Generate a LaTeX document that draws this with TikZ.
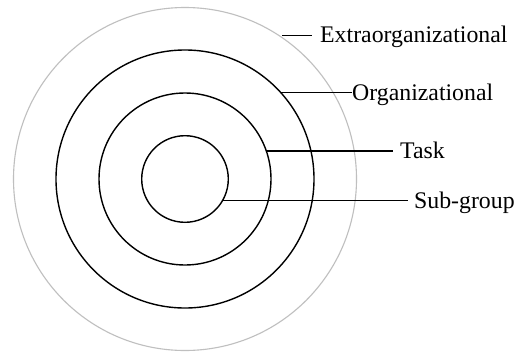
\documentclass[tikz,border=0pt]{standalone}
\usepackage{fontspec}
\setmainfont{Liberation Serif}
\begin{document}
\begin{tikzpicture}[x=1pt,y=-1pt,
  ring/.style={circle,draw=black,line width=1.4pt,inner sep=0pt,outer sep=0pt,minimum size=#1},
  outerring/.style={circle,draw=black!25,line width=1.1pt,inner sep=0pt,outer sep=0pt,minimum size=#1},
  lbl/.style={anchor=base west,inner sep=0pt,font=\fontsize{23.8}{28}\selectfont},
  lead/.style={line width=1.1pt}]
\useasboundingbox (0,0) rectangle (519,351);
\fill[white] (0,0) rectangle (519,351);
\node[outerring=343pt] (extra) at (185,179) {};
\node[ring=258pt] (org) at (185,179) {};
\node[ring=172pt] (task) at (185,179) {};
\node[ring=86.6pt] (sub) at (185,179) {};
\node[lbl] (textra) at (320,42.5) {Extraorganizational};
\node[lbl] (torg) at (352,100.2) {Organizational};
\node[lbl] (ttask) at (400,158.2) {Task};
\node[lbl] (tsub) at (414,208.5) {Sub-group};
\coordinate (eA) at (282,35.5);
\coordinate (eB) at (312,35.5);
\coordinate (oB) at (352,0);
\coordinate (tB) at (393,0);
\coordinate (sB) at (408,0);
\draw[lead] (eA) -- (eB);
\draw[lead] (org.42) -- (org.42 -| oB);
\draw[lead] (task.19.3) -- (task.19.3 -| tB);
\draw[lead] (sub.-30.7) -- (sub.-30.7 -| sB);
\end{tikzpicture}
\end{document}
